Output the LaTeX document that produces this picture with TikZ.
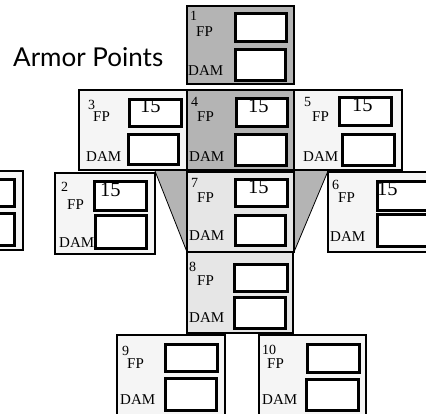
\documentclass[tikz,border=0pt]{standalone}
\usepackage{fontspec}
\setmainfont{Liberation Serif}
\newfontfamily\headfont{Lato}
\definecolor{dk}{RGB}{180,180,180}
\definecolor{md}{RGB}{230,230,230}
\definecolor{lt}{RGB}{245,245,245}
\newcommand\sqbox[4]{\draw[sqr] (#1+1.3,#2+1.3) rectangle (#3-1.3,#4-1.3);}
\begin{document}
\begin{tikzpicture}[x=1pt,y=-1pt,
  panel/.style={draw=black, line width=2pt},
  sqr/.style={draw=black, line width=2.6pt, fill=white},
  wedge/.style={fill=dk, draw=none},
  lab/.style={inner sep=0pt, font=\fontsize{15}{15}\selectfont, anchor=base west},
  num/.style={inner sep=0pt, font=\fontsize{14}{14}\selectfont, anchor=north west},
  val/.style={inner sep=0pt, font=\fontsize{20.5}{20.5}\selectfont, anchor=north west},
  head/.style={inner sep=0pt, font=\headfont\fontsize{26}{26}\selectfont, anchor=base west}
]
\useasboundingbox (0,0) rectangle (426,414);
\clip (0,0) rectangle (426,414);
\fill[white] (0,0) rectangle (426,414);

% wedges
\fill[wedge] (155,171) -- (187,171) -- (187,252) -- cycle;
\draw[line width=0.8pt] (155,171) -- (187,252);
\fill[wedge] (294,171) -- (328,171) -- (294,252) -- cycle;
\draw[line width=0.8pt] (328,171) -- (294,252);

% panels
\filldraw[panel, fill=dk] (187,6) rectangle (294,84);
\filldraw[panel, fill=lt] (79,90) rectangle (187,170.5);
\filldraw[panel, fill=dk] (187,90) rectangle (294,170.5);
\filldraw[panel, fill=lt] (294,90) rectangle (402,170.5);
\filldraw[panel, fill=lt] (-90,171) rectangle (23,250);
\filldraw[panel, fill=lt] (55,173) rectangle (155,254);
\filldraw[panel, fill=md] (187,172) rectangle (294,252);
\filldraw[panel, fill=lt] (328,172) rectangle (440,252);
\filldraw[panel, fill=md] (187,252) rectangle (293,333);
\filldraw[panel, fill=lt] (117,335) rectangle (225,430);
\filldraw[panel, fill=lt] (259,335) rectangle (366,430);

% boxes
\sqbox{234}{12}{288}{43}   \sqbox{234}{48}{287}{82}
\sqbox{128}{98}{183}{128}  \sqbox{127}{133}{180}{166}
\sqbox{235}{97}{289}{128}  \sqbox{234}{133}{288}{167}
\sqbox{338}{96}{393}{127}  \sqbox{341}{133}{396}{167}
\sqbox{-40}{178}{16}{208}  \sqbox{-40}{212}{16}{247}
\sqbox{93}{180}{148}{212}  \sqbox{94}{214}{148}{250}
\sqbox{234}{178}{289}{208} \sqbox{234}{214}{287}{247}
\sqbox{376}{180}{440}{212} \sqbox{376}{213}{440}{248}
\sqbox{233}{263}{289}{293} \sqbox{233}{296}{287}{330}
\sqbox{164}{343}{219}{373} \sqbox{164}{377}{218}{412}
\sqbox{306}{343}{361}{374} \sqbox{305}{378}{360}{412}

% title
\node[head] (title) at (13,67) {Armor Points};

% panel 1
\node[num] (n1) at (190,11) {1};
\node[lab] (fp1) at (196,37) {FP};
\node[lab] (dam1) at (188,76) {DAM};
% panel 3
\node[num] (n3) at (88,100) {3};
\node[lab] (fp3) at (93,122) {FP};
\node[lab] (dam3) at (86,162) {DAM};
\node[val] (v3) at (140,99) {15};
% panel 4
\node[num] (n4) at (191,97) {4};
\node[lab] (fp4) at (197,122) {FP};
\node[lab] (dam4) at (189,162) {DAM};
\node[val] (v4) at (248,99) {15};
% panel 5
\node[num] (n5) at (304,97) {5};
\node[lab] (fp5) at (312,122) {FP};
\node[lab] (dam5) at (303,162) {DAM};
\node[val] (v5) at (352,98) {15};
% panel 2
\node[num] (n2) at (61,182) {2};
\node[lab] (fp2) at (67,210) {FP};
\node[lab] (dam2) at (59,248) {DAM};
\node[val] (v2) at (100,183) {15};
% panel 7
\node[num] (n7) at (191,178) {7};
\node[lab] (fp7) at (197,203) {FP};
\node[lab] (dam7) at (189,241) {DAM};
\node[val] (v7) at (248,180) {15};
% panel 6
\node[num] (n6) at (332,180) {6};
\node[lab] (fp6) at (338,203) {FP};
\node[lab] (dam6) at (330,242) {DAM};
\node[val] (v6) at (377,182) {15};
% panel 8
\node[num] (n8) at (189,262) {8};
\node[lab] (fp8) at (197,286) {FP};
\node[lab] (dam8) at (189,323) {DAM};
% panel 9
\node[num] (n9) at (122,346) {9};
\node[lab] (fp9) at (127,368) {FP};
\node[lab] (dam9) at (120,404) {DAM};
% panel 10
\node[num] (n10) at (262,345) {10};
\node[lab] (fp10) at (267,368.5) {FP};
\node[lab] (dam10) at (262,404) {DAM};
\end{tikzpicture}
\end{document}
